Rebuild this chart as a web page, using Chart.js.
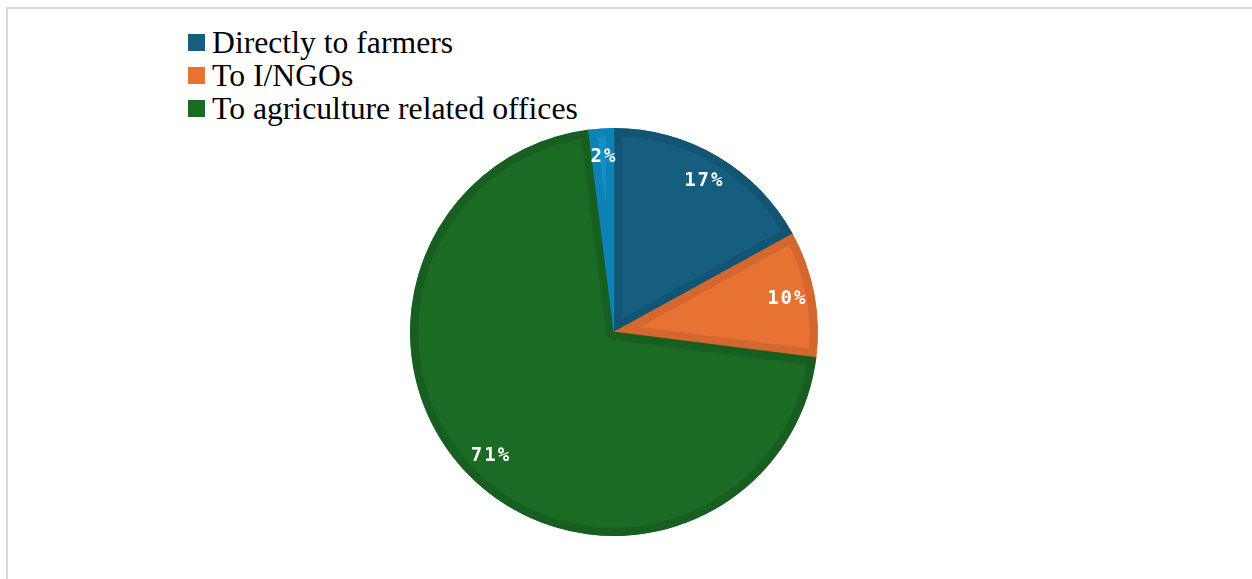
<!DOCTYPE html>
<html>
<head>
<meta charset="utf-8">
<script src="https://cdn.jsdelivr.net/npm/chart.js@4.4.1/dist/chart.umd.min.js"></script>
<style>
  html, body { margin: 0; padding: 0; background: #fff; }
  body { width: 1252px; height: 579px; position: relative; overflow: hidden; }
  .frame { position: absolute; left: 6px; top: 7px; width: 1260px; height: 600px;
           border-top: 2px solid #d9d9d9; border-left: 2px solid #d9d9d9; }
  #legend { position: absolute; left: 188px; top: 26px; font-family: "Liberation Serif", serif;
            font-size: 31.7px; color: #000; line-height: 33px; }
  #legend .item { display: flex; align-items: center; white-space: nowrap; }
  #legend .box { width: 17px; height: 17px; margin-right: 7px; box-sizing: border-box; }
  #wrap { position: absolute; left: 400px; top: 118px; width: 428px; height: 428px; }
</style>
</head>
<body>
<div class="frame"></div>
<div id="legend"></div>
<div id="wrap"><canvas id="pie"></canvas></div>
<script>
// Chart data
const labels = ['Directly to farmers', 'To I/NGOs', 'To agriculture related offices', 'Other'];
const values = [17, 10, 71, 2];
const showInLegend = [true, true, true, false];
const fillColors = ['#165e80', '#e87134', '#1b6b25', '#1190c8'];
const edgeColors = ['#125473', '#d3672f', '#175f21', '#0f82b5'];

// legend built from the arrays (only the three named shares)
const legendEl = document.getElementById('legend');
labels.forEach((name, i) => {
    if (!showInLegend[i]) return;
    const row = document.createElement('div');
    row.className = 'item';
    row.innerHTML = '<span class="box" style="background:' + fillColors[i] + '"></span>' + name;
    legendEl.appendChild(row);
});

// draws the % labels inside each slice
const sliceLabels = {
    id: 'sliceLabels',
    afterDatasetsDraw(chart) {
        const ctx = chart.ctx;
        const meta = chart.getDatasetMeta(0);
        ctx.save();
        ctx.font = 'bold 19px "DejaVu Sans Mono", monospace';
        ctx.letterSpacing = '2px';
        ctx.fillStyle = '#ffffff';
        ctx.textAlign = 'center';
        ctx.textBaseline = 'middle';
        meta.data.forEach((arc, i) => {
            const mid = (arc.startAngle + arc.endAngle) / 2;
            const r = arc.outerRadius * 0.86;
            ctx.fillText(values[i] + '%', arc.x + Math.cos(mid) * r + 1, arc.y + Math.sin(mid) * r);
        });
        ctx.restore();
    }
};

new Chart(document.getElementById('pie'), {
    type: 'pie',
    data: {
        labels: labels,
        datasets: [{
            data: values,
            backgroundColor: fillColors,
            borderColor: edgeColors,
            borderWidth: 8,
            borderAlign: 'inner',
            hoverBorderWidth: 8
        }]
    },
    options: {
        responsive: true,
        maintainAspectRatio: false,
        animation: false,
        layout: { padding: 10 },
        plugins: {
            legend: { display: false },
            tooltip: { enabled: false }
        }
    },
    plugins: [sliceLabels]
});
</script>
</body>
</html>
